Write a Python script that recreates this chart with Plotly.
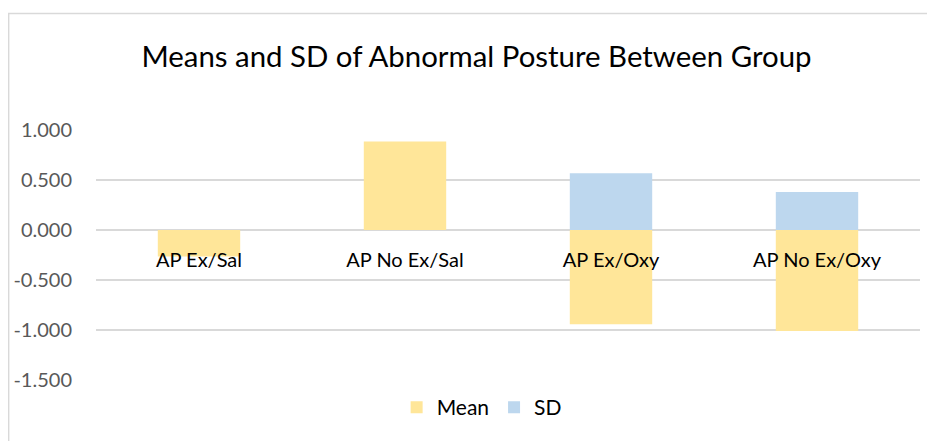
import plotly.graph_objects as go

# groups and values
groups = ['AP Ex/Sal', 'AP No Ex/Sal', 'AP Ex/Oxy', 'AP No Ex/Oxy']
mean_vals = [-0.265, 0.885, -0.943, -1.010]
sd_vals = [None, None, 0.567, 0.380]
y_ticks = [1.0, 0.5, 0.0, -0.5, -1.0, -1.5]

FONT = 'Lato'

fig = go.Figure()
fig.add_trace(go.Bar(x=groups, y=mean_vals, name='Mean', marker_color='#FFE699',
                     marker_line_width=0))
fig.add_trace(go.Bar(x=groups, y=sd_vals, name='SD', marker_color='#BDD7EE',
                     marker_line_width=0))

# page body keeps an 8px margin, so the figure is a bit smaller than the window
fig.update_layout(
    width=927, height=433,
    margin=dict(l=88, r=15, t=122, b=61, autoexpand=False),
    paper_bgcolor='white', plot_bgcolor='white',
    barmode='relative', bargap=0.6,
    font=dict(family=FONT, color='#595959'),
    title=dict(text='Means and SD of Abnormal Posture Between Group',
               x=0.5054, xanchor='center', y=0.888, yanchor='middle',
               font=dict(family=FONT, size=29.4, color='black')),
    legend=dict(orientation='h', x=0.468, xanchor='center', y=-0.11, yanchor='middle',
                font=dict(family=FONT, size=21, color='black'),
                traceorder='normal'),
    shapes=[dict(type='rect', xref='paper', yref='paper',
                 x0=-0.106, x1=1.2, y0=-0.6, y1=1.466,
                 line=dict(color='#D9D9D9', width=1.5), fillcolor='rgba(0,0,0,0)')],
)
fig.update_xaxes(anchor='free', position=0.6, showline=False, showgrid=False,
                 ticks='', ticklabelstandoff=16,
                 tickfont=dict(family=FONT, size=20, color='black'))
# hyphen minus like the original, not the unicode minus
fig.update_yaxes(range=[-1.5, 1.0], tickvals=y_ticks,
                 ticktext=[f'{v:.3f}' for v in y_ticks],
                 showgrid=True, gridcolor='#D9D9D9', gridwidth=1.5,
                 zeroline=False, ticks='', ticklabelstandoff=23,
                 tickfont=dict(family=FONT, size=20, color='#595959'))

fig.write_html('out.html')
